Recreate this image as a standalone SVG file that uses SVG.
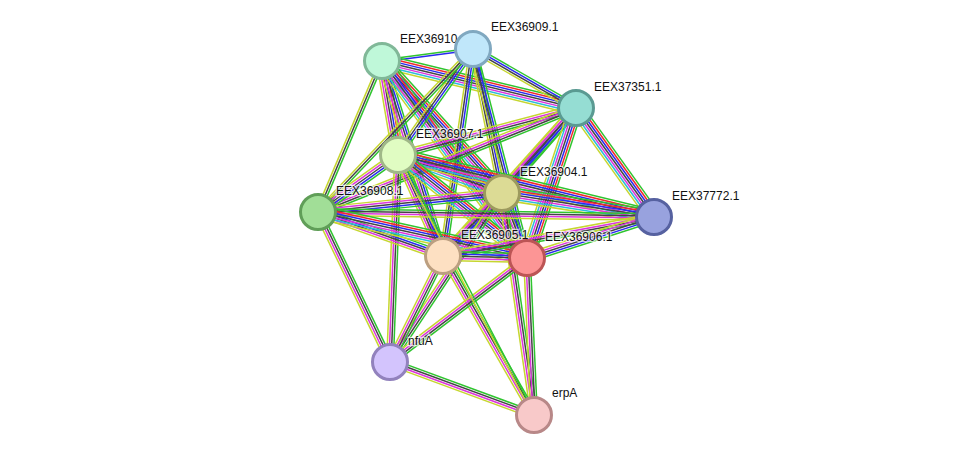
<svg xmlns="http://www.w3.org/2000/svg" xmlns:xlink="http://www.w3.org/1999/xlink" width="976" height="461" viewBox="0 0 976 461">
<style>
line{stroke-width:1.5;stroke-linecap:butt;fill:none}
.g{stroke:#2fc42f}.r{stroke:#f02a2a}.b{stroke:#2a2af0}.k{stroke:#444444}.m{stroke:#dc35dc}.c{stroke:#2cbcd8}.y{stroke:#c6d630}
.node circle{stroke-width:3}
.lbl{font-family:"Liberation Sans",Arial,sans-serif;font-size:12px;fill:#111;stroke:#ffffff;stroke-width:2.5;stroke-opacity:0.7;paint-order:stroke}
</style>
<defs>
<g id="b2gb"><line class="g" x1="0" y1="-1.1" x2="1" y2="-1.1"/><line class="b" x1="0" y1="1.1" x2="1" y2="1.1"/></g>
<g id="b2gy"><line class="g" x1="0" y1="-1.1" x2="1" y2="-1.1"/><line class="y" x1="0" y1="1.1" x2="1" y2="1.1"/></g>
<g id="b3"><line class="g" x1="0" y1="-2.2" x2="1" y2="-2.2"/><line class="k" x1="0" y1="0" x2="1" y2="0"/><line class="y" x1="0" y1="2.2" x2="1" y2="2.2"/></g>
<g id="b4"><line class="g" x1="0" y1="-3.3" x2="1" y2="-3.3"/><line class="k" x1="0" y1="-1.1" x2="1" y2="-1.1"/><line class="m" x1="0" y1="1.1" x2="1" y2="1.1"/><line class="y" x1="0" y1="3.3" x2="1" y2="3.3"/></g>
<g id="b4b"><line class="g" x1="0" y1="-3.3" x2="1" y2="-3.3"/><line class="b" x1="0" y1="-1.1" x2="1" y2="-1.1"/><line class="k" x1="0" y1="1.1" x2="1" y2="1.1"/><line class="y" x1="0" y1="3.3" x2="1" y2="3.3"/></g>
<g id="b5"><line class="g" x1="0" y1="-4.4" x2="1" y2="-4.4"/><line class="b" x1="0" y1="-2.2" x2="1" y2="-2.2"/><line class="k" x1="0" y1="0" x2="1" y2="0"/><line class="m" x1="0" y1="2.2" x2="1" y2="2.2"/><line class="y" x1="0" y1="4.4" x2="1" y2="4.4"/></g>
<g id="b6"><line class="g" x1="0" y1="-5.5" x2="1" y2="-5.5"/><line class="r" x1="0" y1="-3.3" x2="1" y2="-3.3"/><line class="b" x1="0" y1="-1.1" x2="1" y2="-1.1"/><line class="k" x1="0" y1="1.1" x2="1" y2="1.1"/><line class="m" x1="0" y1="3.3" x2="1" y2="3.3"/><line class="y" x1="0" y1="5.5" x2="1" y2="5.5"/></g>
<g id="b7"><line class="g" x1="0" y1="-6.6" x2="1" y2="-6.6"/><line class="r" x1="0" y1="-4.4" x2="1" y2="-4.4"/><line class="b" x1="0" y1="-2.2" x2="1" y2="-2.2"/><line class="k" x1="0" y1="0" x2="1" y2="0"/><line class="m" x1="0" y1="2.2" x2="1" y2="2.2"/><line class="c" x1="0" y1="4.4" x2="1" y2="4.4"/><line class="y" x1="0" y1="6.6" x2="1" y2="6.6"/></g>
</defs>
<rect x="0" y="0" width="976" height="461" fill="#ffffff"/>
<g id="edges">
<use href="#b2gb" transform="matrix(91 -12 0.1307 0.9914 382 61)"/>
<use href="#b7" transform="matrix(194 47 -0.2355 0.9719 382 61)"/>
<use href="#b6" transform="matrix(16 94 -0.9858 0.1678 382 61)"/>
<use href="#b7" transform="matrix(120 132 -0.7399 0.6726 382 61)"/>
<use href="#b3" transform="matrix(-64 151 -0.9207 -0.3902 382 61)"/>
<use href="#b5" transform="matrix(61 195 -0.9545 0.2986 382 61)"/>
<use href="#b7" transform="matrix(145 197 -0.8054 0.5928 382 61)"/>
<use href="#b4b" transform="matrix(103 59 -0.4971 0.8677 473 49)"/>
<use href="#b4b" transform="matrix(-75 106 -0.8163 -0.5776 473 49)"/>
<use href="#b4b" transform="matrix(29 144 -0.9803 0.1974 473 49)"/>
<use href="#b3" transform="matrix(-155 163 -0.7248 -0.6892 473 49)"/>
<use href="#b4b" transform="matrix(-30 207 -0.9895 -0.1434 473 49)"/>
<use href="#b4b" transform="matrix(54 209 -0.9681 0.2501 473 49)"/>
<use href="#b4" transform="matrix(-178 47 -0.2553 -0.9669 576 108)"/>
<use href="#b5" transform="matrix(-74 85 -0.7542 -0.6566 576 108)"/>
<use href="#b4" transform="matrix(-258 104 -0.3738 -0.9274 576 108)"/>
<use href="#b7" transform="matrix(78 109 -0.8134 0.5821 576 108)"/>
<use href="#b5" transform="matrix(-133 148 -0.7437 -0.6683 576 108)"/>
<use href="#b7" transform="matrix(-49 150 -0.9506 -0.3105 576 108)"/>
<use href="#b7" transform="matrix(104 38 -0.3433 0.9395 398 155)"/>
<use href="#b5" transform="matrix(-80 57 -0.5803 -0.8144 398 155)"/>
<use href="#b7" transform="matrix(256 62 -0.2354 0.9719 398 155)"/>
<use href="#b5" transform="matrix(45 101 -0.9132 0.4069 398 155)"/>
<use href="#b7" transform="matrix(129 103 -0.6239 0.7813 398 155)"/>
<use href="#b4" transform="matrix(-8 207 -0.9993 -0.0386 398 155)"/>
<use href="#b5" transform="matrix(-184 19 -0.1027 -0.9946 502 193)"/>
<use href="#b7" transform="matrix(152 24 -0.1559 0.9877 502 193)"/>
<use href="#b5" transform="matrix(-59 63 -0.7299 -0.6836 502 193)"/>
<use href="#b5" transform="matrix(25 65 -0.9334 0.3590 502 193)"/>
<use href="#b4" transform="matrix(-112 169 -0.8337 -0.5525 502 193)"/>
<use href="#b4" transform="matrix(32 222 -0.9898 0.1427 502 193)"/>
<use href="#b4" transform="matrix(336 5 -0.0149 0.9999 318 212)"/>
<use href="#b5" transform="matrix(125 44 -0.3321 0.9434 318 212)"/>
<use href="#b7" transform="matrix(209 46 -0.2150 0.9766 318 212)"/>
<use href="#b4" transform="matrix(72 150 -0.9014 0.4327 318 212)"/>
<use href="#b4" transform="matrix(-211 39 -0.1817 -0.9832 654 217)"/>
<use href="#b5" transform="matrix(-127 41 -0.3071 -0.9513 654 217)"/>
<use href="#b5" transform="matrix(84 2 -0.0238 0.9998 443 256)"/>
<use href="#b4" transform="matrix(-53 106 -0.8945 -0.4473 443 256)"/>
<use href="#b4" transform="matrix(91 159 -0.8679 0.4967 443 256)"/>
<use href="#b4" transform="matrix(-137 104 -0.6047 -0.7965 527 258)"/>
<use href="#b4" transform="matrix(7 157 -0.9990 0.0445 527 258)"/>
<use href="#b4" transform="matrix(144 53 -0.3455 0.9387 390 362)"/>
<use href="#b2gy" transform="matrix(136 260 -0.8862 0.4635 398 155)"/>
</g>
<g id="n-EEX36910" class="node"><text class="lbl" x="400" y="43">EEX36910</text><circle cx="382" cy="61" r="17.5" fill="#bff8d9" stroke="#80b898"/></g>
<g id="n-EEX36909" class="node"><circle cx="473" cy="49" r="17.5" fill="#c0e7fa" stroke="#80a8c0"/><text class="lbl" x="491" y="31">EEX36909.1</text></g>
<g id="n-EEX37351" class="node"><circle cx="576" cy="108" r="17.5" fill="#95ddd3" stroke="#5a9a92"/><text class="lbl" x="594" y="91">EEX37351.1</text></g>
<g id="n-EEX36907" class="node"><circle cx="398" cy="155" r="17.5" fill="#e0fcc2" stroke="#a0b888"/><text class="lbl" x="416" y="138">EEX36907.1</text></g>
<g id="n-EEX36904" class="node"><circle cx="502" cy="193" r="17.5" fill="#dcdb95" stroke="#9c9a5e"/><text class="lbl" x="520" y="176">EEX36904.1</text></g>
<g id="n-EEX36908" class="node"><circle cx="318" cy="212" r="17.5" fill="#a1de97" stroke="#609e58"/><text class="lbl" x="336" y="195">EEX36908.1</text></g>
<g id="n-EEX37772" class="node"><circle cx="654" cy="217" r="17.5" fill="#98a2de" stroke="#5661a0"/><text class="lbl" x="672" y="200">EEX37772.1</text></g>
<g id="n-EEX36905" class="node"><circle cx="443" cy="256" r="17.5" fill="#fde0c2" stroke="#bc9f80"/><text class="lbl" x="461" y="239">EEX36905.1</text></g>
<g id="n-EEX36906" class="node"><circle cx="527" cy="258" r="17.5" fill="#fc9595" stroke="#bc5555"/><text class="lbl" x="545" y="241">EEX36906.1</text></g>
<g id="n-nfuA" class="node"><circle cx="390" cy="362" r="17.5" fill="#d3c4fd" stroke="#9282bd"/><text class="lbl" x="408" y="345">nfuA</text></g>
<g id="n-erpA" class="node"><circle cx="534" cy="415" r="17.5" fill="#f8c9c9" stroke="#b88888"/><text class="lbl" x="552" y="397">erpA</text></g>
</svg>
